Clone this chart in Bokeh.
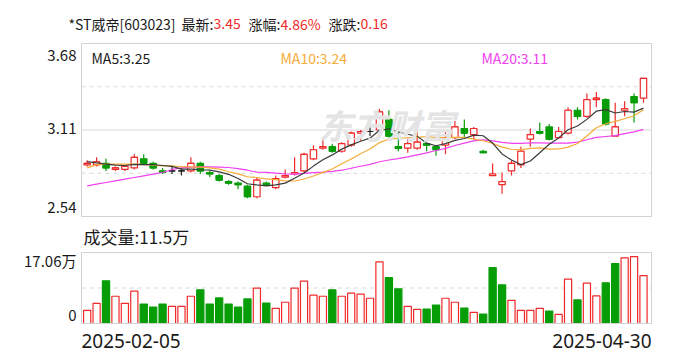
from bokeh.plotting import figure
from bokeh.layouts import column
from bokeh.models import Label, ColumnDataSource, Range1d, BoxAnnotation
from bokeh.embed import file_html
from bokeh.resources import INLINE

# ---------------- data ----------------
stock_name = "*ST威帝"
stock_code = "603023"
date_start = "2025-02-05"
date_end = "2025-04-30"

opens = [2.88, 2.88, 2.89, 2.85, 2.85, 2.86, 2.92, 2.89, 2.84, 2.84,
         2.84, 2.84, 2.89, 2.83, 2.81, 2.77, 2.76, 2.74, 2.67, 2.76,
         2.73, 2.80, 2.82, 2.84, 2.92, 2.99, 3.00, 2.97, 3.01, 3.09,
         3.10, 3.11, 3.18, 3.00, 2.99, 2.99, 3.02, 3.00, 3.01, 3.06,
         3.12, 3.08, 2.97, 2.81, 2.75, 2.84, 2.88, 3.05, 3.10, 3.13,
         3.06, 3.09, 3.24, 3.20, 3.31, 3.31, 3.07, 3.24, 3.33, 3.32]
highs = [2.91, 2.93, 2.92, 2.87, 2.88, 2.95, 2.95, 2.90, 2.86, 2.87,
         2.86, 2.93, 2.90, 2.84, 2.82, 2.78, 2.77, 2.75, 2.80, 2.77,
         2.81, 2.85, 2.93, 2.96, 3.01, 3.06, 3.02, 3.03, 3.10, 3.11,
         3.20, 3.25, 3.24, 3.10, 3.06, 3.10, 3.04, 3.01, 3.10, 3.17,
         3.18, 3.13, 2.98, 2.89, 2.83, 2.91, 3.00, 3.12, 3.16, 3.15,
         3.13, 3.26, 3.26, 3.35, 3.36, 3.32, 3.29, 3.30, 3.35, 3.45]
lows = [2.87, 2.87, 2.84, 2.84, 2.84, 2.85, 2.88, 2.85, 2.82, 2.82,
        2.81, 2.83, 2.82, 2.80, 2.77, 2.75, 2.72, 2.66, 2.66, 2.74,
        2.72, 2.79, 2.81, 2.83, 2.91, 2.98, 2.96, 2.96, 3.00, 3.04,
        3.07, 3.10, 3.06, 2.97, 2.96, 2.98, 2.97, 2.94, 2.95, 3.05,
        3.06, 3.05, 2.96, 2.81, 2.69, 2.81, 2.86, 3.00, 3.08, 3.04,
        3.05, 3.08, 3.18, 3.19, 3.26, 3.14, 3.07, 3.20, 3.16, 3.29]
closes = [2.89, 2.90, 2.86, 2.86, 2.87, 2.93, 2.89, 2.86, 2.83, 2.84,
          2.84, 2.89, 2.84, 2.82, 2.78, 2.76, 2.75, 2.67, 2.78, 2.75,
          2.79, 2.81, 2.83, 2.95, 2.98, 3.00, 2.97, 3.02, 3.09, 3.10,
          3.10, 3.23, 3.07, 2.99, 3.02, 3.03, 3.01, 2.98, 3.06, 3.13,
          3.09, 3.12, 2.96, 2.82, 2.77, 2.89, 2.97, 3.08, 3.09, 3.05,
          3.10, 3.24, 3.20, 3.31, 3.32, 3.15, 3.13, 3.25, 3.29, 3.45]
# volume, unit: 万 (10k shares)
volumes = [3.16, 4.85, 10.27, 6.55, 4.85, 7.77, 4.69, 3.96, 4.69, 4.13,
           4.13, 6.55, 8.09, 4.69, 6.15, 4.69, 3.96, 5.91, 8.49, 4.93,
           3.64, 5.10, 8.49, 10.19, 6.80, 6.55, 8.09, 6.55, 7.28, 7.04,
           6.07, 14.80, 11.00, 8.33, 4.13, 3.40, 3.48, 4.45, 6.07, 5.10,
           3.72, 2.67, 2.27, 13.43, 9.30, 5.58, 3.16, 3.16, 3.64, 2.99,
           2.18, 10.68, 5.66, 9.71, 6.63, 9.79, 14.40, 15.78, 16.09, 11.50]
# moving-average values before the window is complete
ma5_head = [2.902, 2.893, 2.885, 2.878]
ma10_head = [2.860, 2.882, 2.885, 2.885, 2.885, 2.885, 2.882, 2.878, 2.874]
ma20_head = [2.742, 2.753, 2.764, 2.775, 2.786, 2.797, 2.808, 2.819, 2.830,
             2.850, 2.860, 2.865, 2.867, 2.867, 2.865, 2.863, 2.856, 2.845, 2.832]
price_ticks = [3.68, 3.11, 2.54]

# ---------------- styles / layout ----------------
RED = "#f02a2a"
GREEN = "#079d07"
BLACK = "#222222"
TXT = "#1a1a1a"
C_MA5 = "#3a3a3a"
C_MA10 = "#f5ac37"
C_MA20 = "#f040f0"
GRID = "#d8d8d8"
FRAME = "#d2d2d2"
FONT = "Noto Sans CJK SC"

W = 688
H1, H2 = 224, 136
FL, FR = 81, 651            # plot box left/right (px)
P_TOP, P_BOT = 43, 216      # price box top/bottom (px in figure 1)
V_TOP, V_BOT = 28, 99       # volume box top/bottom (px in figure 2)

n = len(closes)
xs = list(range(n))


def moving_avg(vals, k, head):
    out = list(head)
    for i in range(len(head), len(vals)):
        out.append(sum(vals[i - k + 1:i + 1]) / k)
    return out


ma5 = moving_avg(closes, 5, ma5_head)
ma10 = moving_avg(closes, 10, ma10_head)
ma20 = moving_avg(closes, 20, ma20_head)

ccol = [RED if c > o else (GREEN if c < o else BLACK) for o, c in zip(opens, closes)]
cfill = ["white" if c > o else col for o, c, col in zip(opens, closes, ccol)]
bw = 0.68
csrc = ColumnDataSource(dict(
    x=xs, o=opens, h=highs, l=lows, c=closes,
    top=[max(o, c) for o, c in zip(opens, closes)],
    bot=[min(o, c) for o, c in zip(opens, closes)],
    x0=[x - bw / 2 for x in xs], x1=[x + bw / 2 for x in xs],
    col=ccol, fill=cfill))

vcol = [RED if (i == 0 or closes[i] >= closes[i - 1]) else GREEN for i in range(n)]
vfill = ["white" if c == RED else c for c in vcol]
vsrc = ColumnDataSource(dict(x=xs, v=volumes, col=vcol, fill=vfill))

x_lo, x_hi = -0.6, n - 0.15
upx = (x_hi - x_lo) / (FR - FL)
xr = Range1d(x_lo - FL * upx, x_hi + (W - FR) * upx)

p_hi, p_mid, p_lo = price_ticks
upy1 = (p_hi - p_lo) / (P_BOT - P_TOP)
yr1 = Range1d(p_lo - (H1 - P_BOT) * upy1, p_hi + P_TOP * upy1)

vmax = round(max(volumes) * 1.06, 2)
upy2 = vmax / (V_BOT - V_TOP)
yr2 = Range1d(0 - (H2 - V_BOT) * upy2, vmax + V_TOP * upy2)


def lab(p, x, y, text, color=TXT, size="15px", align="left", font=FONT, style="normal"):
    p.add_layout(Label(x=x, y=y, x_units="screen", y_units="screen", text=text,
                       text_color=color, text_font_size=size, text_align=align,
                       text_baseline="middle", text_font=font, text_font_style=style))


def base_fig(h, yr):
    p = figure(width=W, height=h, x_range=xr, y_range=yr, output_backend="svg",
               toolbar_location=None, min_border=0, min_border_left=0,
               min_border_right=0, min_border_top=0, min_border_bottom=0)
    p.xaxis.visible = False
    p.yaxis.visible = False
    p.grid.visible = False
    p.outline_line_color = None
    p.border_fill_color = "white"
    return p


# ---------------- price chart ----------------
p1 = base_fig(H1, yr1)

# watermark
lab(p1, 318, H1 - 124, "东方财富", color="#e4e4e4", size="34px", style="bold italic")

p1.segment(x0=[x_lo, x_lo], x1=[x_hi, x_hi], y0=[(p_hi + p_mid) / 2, (p_mid + p_lo) / 2],
           y1=[(p_hi + p_mid) / 2, (p_mid + p_lo) / 2], line_color=GRID, line_width=1,
           line_dash="4 4")
p1.segment(x0=[x_lo], x1=[x_hi], y0=[p_mid], y1=[p_mid], line_color=GRID, line_width=1)
p1.add_layout(BoxAnnotation(left=x_lo, right=x_hi, bottom=p_lo, top=p_hi, fill_alpha=0,
                            line_color=FRAME, line_width=1, line_alpha=1))

p1.segment(x0="x", y0="h", x1="x", y1="l", color="col", line_width=1.2, source=csrc)
p1.segment(x0="x0", y0="c", x1="x1", y1="c", color="col", line_width=1.2, source=csrc)
p1.vbar(x="x", top="top", bottom="bot", width=bw, fill_color="fill", line_color="col",
        line_width=1.2, source=csrc)

p1.line(xs, ma20, line_color=C_MA20, line_width=1.2)
p1.line(xs, ma10, line_color=C_MA10, line_width=1.2)
p1.line(xs, ma5, line_color=C_MA5, line_width=1.2)

# header
prev = closes[-2]
last = closes[-1]
chg = last - prev
pct = chg / prev * 100
hy = H1 - 23
HS = "14px"
lab(p1, 68, hy, f"{stock_name}[{stock_code}]", size=HS)
lab(p1, 181, hy, "最新:", size=HS)
lab(p1, 213, hy, f"{last:.2f}", color=RED, size=HS)
lab(p1, 248, hy, "涨幅:", size=HS)
lab(p1, 280, hy, f"{pct:.2f}%", color=RED, size=HS)
lab(p1, 328, hy, "涨跌:", size=HS)
lab(p1, 360, hy, f"{chg:.2f}", color=RED, size=HS)

# MA legend
my = H1 - 57
lab(p1, 91, my, f"MA5:{ma5[-1]:.2f}", color=TXT, size="14px")
lab(p1, 280, my, f"MA10:{ma10[-1]:.2f}", color=C_MA10, size="14px")
lab(p1, 481, my, f"MA20:{ma20[-1]:.2f}", color=C_MA20, size="14px")

# price axis labels
lab(p1, FL - 5, H1 - 55, f"{p_hi:.2f}", align="right")
lab(p1, FL - 5, H1 - 128, f"{p_mid:.2f}", align="right")
lab(p1, FL - 5, H1 - 207, f"{p_lo:.2f}", align="right")

# ---------------- volume chart ----------------
p2 = base_fig(H2, yr2)
p2.segment(x0=[x_lo], x1=[x_hi], y0=[vmax / 2], y1=[vmax / 2], line_color=GRID,
           line_width=1, line_dash="4 4")
p2.add_layout(BoxAnnotation(left=x_lo, right=x_hi, bottom=0, top=vmax, fill_alpha=0,
                            line_color=FRAME, line_width=1, line_alpha=1))
p2.vbar(x="x", top="v", bottom=0, width=0.76, fill_color="fill", line_color="col",
        line_width=1.2, source=vsrc)

lab(p2, 83, H2 - 12, f"成交量:{volumes[-1]:g}万", size="17px")
lab(p2, FL - 5, H2 - 36, f"{vmax:.2f}万", align="right")
lab(p2, FL - 5, H2 - 91, "0", align="right")
lab(p2, FL, H2 - 116, date_start, size="19px", font="Noto Sans")
lab(p2, FR, H2 - 116, date_end, size="19px", font="Noto Sans", align="right")

layout = column(p1, p2)
open("out.html", "w").write(file_html(layout, INLINE))
